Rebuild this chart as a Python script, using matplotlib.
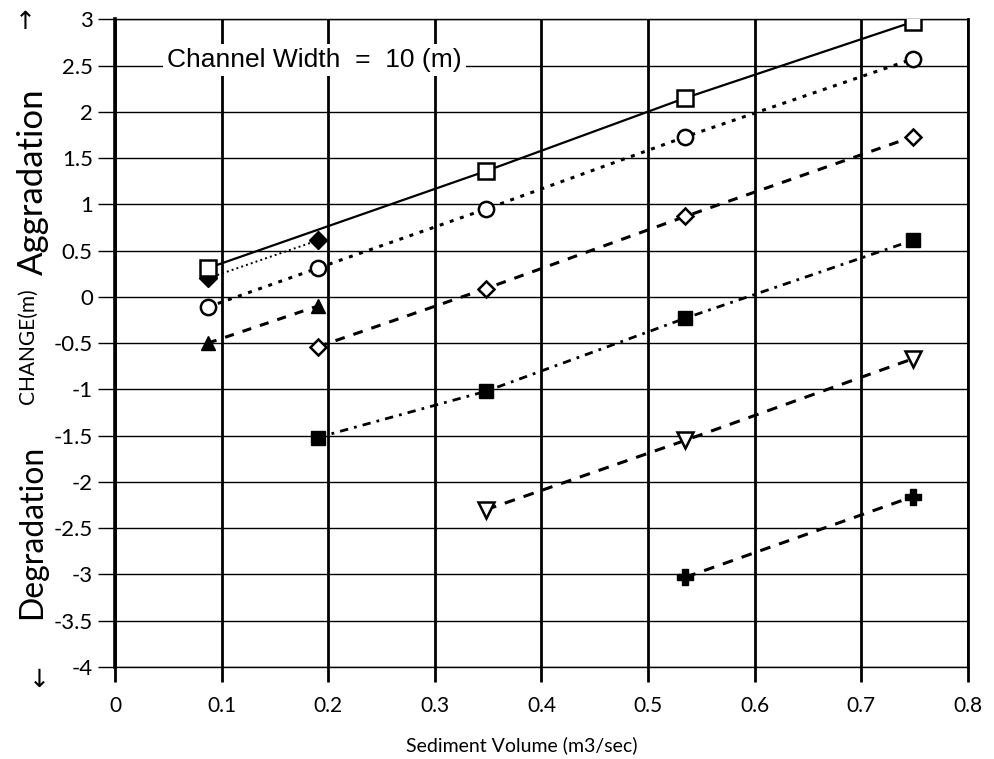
import matplotlib
matplotlib.use("Agg")
import matplotlib.pyplot as plt

# =============================================================================
# DATA
# =============================================================================
x_ticks = [0, 0.1, 0.2, 0.3, 0.4, 0.5, 0.6, 0.7, 0.8]
x_labels = ["0", "0.1", "0.2", "0.3", "0.4", "0.5", "0.6", "0.7", "0.8"]
y_ticks = [3, 2.5, 2, 1.5, 1, 0.5, 0, -0.5, -1, -1.5, -2, -2.5, -3, -3.5, -4]
y_labels = ["3", "2.5", "2", "1.5", "1", "0.5", "0", "-0.5", "-1", "-1.5",
            "-2", "-2.5", "-3", "-3.5", "-4"]

# open squares, solid line
sq_x = [0.087, 0.348, 0.535, 0.748]
sq_y = [0.31, 1.36, 2.15, 2.97]
# open circles, dotted line
circ_x = [0.087, 0.19, 0.348, 0.535, 0.748]
circ_y = [-0.11, 0.31, 0.95, 1.73, 2.57]
# open diamonds, dashed line
dia_x = [0.19, 0.348, 0.535, 0.748]
dia_y = [-0.54, 0.09, 0.87, 1.73]
# filled diamonds, fine dotted line
fdia_x = [0.087, 0.19]
fdia_y = [0.20, 0.61]
# filled triangles, dashed line
tri_x = [0.087, 0.19]
tri_y = [-0.50, -0.10]
# filled squares, dash-dot line
fsq_x = [0.19, 0.348, 0.535, 0.748]
fsq_y = [-1.52, -1.02, -0.23, 0.61]
# open down triangles, dashed line
vtri_x = [0.348, 0.535, 0.748]
vtri_y = [-2.30, -1.55, -0.67]
# filled plus, dashed line
plus_x = [0.535, 0.748]
plus_y = [-3.03, -2.16]

TICK_FONT = "Lato"
LABEL_FONT = "Lato"

# =============================================================================
# FIGURE
# =============================================================================
fig = plt.figure(figsize=(9.94, 7.59), dpi=100)
ax = fig.add_axes([0.1157, 0.1212, 0.8581, 0.8534])

ax.set_xlim(0, 0.8)
ax.set_ylim(-4, 3)

# grid: thin horizontal lines, heavy vertical lines
for y in y_ticks:
    ax.axhline(y, color="black", lw=1.0, zorder=1)
for x in x_ticks:
    ax.axvline(x, color="black", lw=2.0, zorder=1)

for s in ["top", "bottom"]:
    ax.spines[s].set_linewidth(1.0)
ax.spines["left"].set_linewidth(2.6)
ax.spines["right"].set_linewidth(2.0)

ax.set_xticks(x_ticks)
ax.set_xticklabels(x_labels, fontsize=15, family=TICK_FONT)
ax.set_yticks(y_ticks)
ax.set_yticklabels(y_labels, fontsize=16, family=TICK_FONT)
ax.tick_params(axis="x", direction="out", length=11, width=2.0, pad=10)
ax.tick_params(axis="y", direction="out", length=12, width=1.0, pad=4)

# --- series ---
ax.plot(sq_x, sq_y, color="black", lw=1.6, ls="-", marker="s", ms=12,
        mfc="white", mec="black", mew=1.8, zorder=6)

ax.plot(circ_x, circ_y, color="black", lw=2.2, dashes=(1.3, 2.2), marker="o",
        ms=11, mfc="white", mec="black", mew=1.8, zorder=4)

ax.plot(dia_x, dia_y, color="black", lw=2.2, dashes=(3.2, 3.0), marker="D",
        ms=8, mfc="white", mec="black", mew=1.8, zorder=4)

ax.plot(fdia_x, fdia_y, color="black", lw=1.4, dashes=(1.0, 1.6), marker="D",
        ms=9, mfc="black", mec="black", zorder=5)

ax.plot(tri_x, tri_y, color="black", lw=2.2, dashes=(3.0, 3.0), marker="^",
        ms=10, mfc="black", mec="black", zorder=4)

ax.plot(fsq_x, fsq_y, color="black", lw=2.0, dashes=(3.0, 2.2, 1.0, 2.2),
        marker="s", ms=10, mfc="black", mec="black", zorder=4)

ax.plot(vtri_x, vtri_y, color="black", lw=2.2, dashes=(3.5, 3.0), marker="v",
        ms=12, mfc="white", mec="black", mew=1.8, zorder=4)

ax.plot(plus_x, plus_y, color="black", lw=2.2, dashes=(3.5, 3.0), marker="P",
        ms=12, mfc="black", mec="black", zorder=4)

# --- annotation ---
ax.text(0.049, 2.56, "Channel Width  =  10 (m)", fontsize=19,
        family="Liberation Sans", ha="left", va="center", zorder=7,
        bbox=dict(facecolor="white", edgecolor="none", pad=3))

# --- axis labels ---
fig.text(522 / 994, 1 - 745 / 759, "Sediment Volume (m3/sec)", fontsize=14,
         family=LABEL_FONT, ha="center", va="center")
fig.text(33 / 994, 1 - 182 / 759, "Aggradation", fontsize=25, rotation=90,
         family=LABEL_FONT, ha="center", va="center")
fig.text(28 / 994, 1 - 346 / 759, "CHANGE(m)", fontsize=15, rotation=90,
         family=LABEL_FONT, ha="center", va="center")
fig.text(32 / 994, 1 - 532 / 759, "Degradation", fontsize=23, rotation=90,
         family=LABEL_FONT, ha="center", va="center")
fig.text(25 / 994, 1 - 22 / 759, "\u2191", fontsize=18, family="DejaVu Sans",
         ha="center", va="center")
fig.text(39 / 994, 1 - 680 / 759, "\u2193", fontsize=18, family="DejaVu Sans",
         ha="center", va="center")

plt.savefig("out.png", dpi=100)
